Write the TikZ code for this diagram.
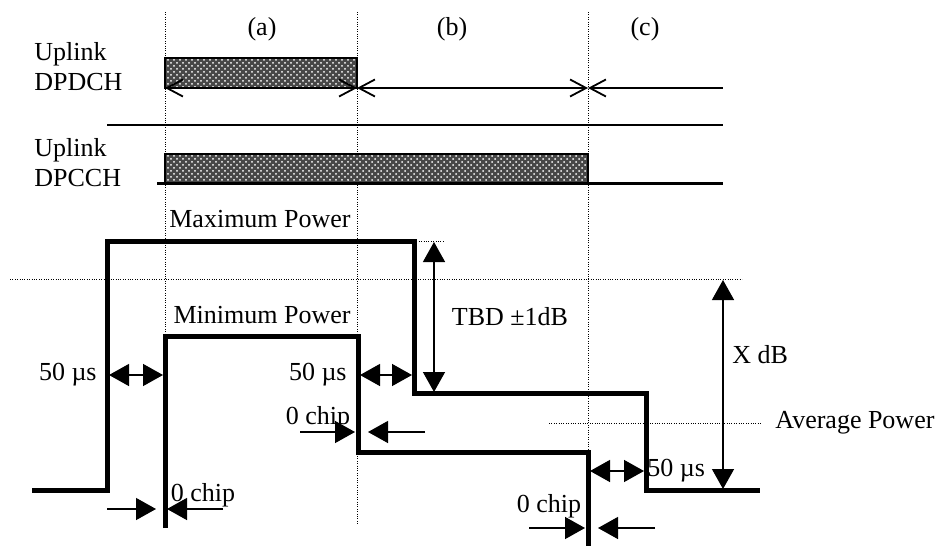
\documentclass[tikz,border=0pt]{standalone}
\usepackage{fontspec}
\setmainfont{Liberation Serif}
\usetikzlibrary{arrows.meta,patterns}
\begin{document}
\begin{tikzpicture}[x=0.5pt,y=-0.5pt,
  every node/.style={font=\fontsize{13}{15}\selectfont, inner sep=0pt},
  guide/.style={line width=0.5pt, dash pattern=on 0.5pt off 0.7pt},
  trace/.style={line width=2.5pt, line join=miter},
  sepline/.style={line width=0.9pt},
  baseline/.style={line width=1.5pt},
  boxline/.style={line width=0.7pt},
  barbline/.style={line width=0.9pt},
  dim/.style={line width=0.7pt, {Triangle[length=10pt,width=11pt]}-{Triangle[length=10pt,width=11pt]}},
  ptr/.style={line width=0.7pt, -{Triangle[length=10pt,width=11pt]}},
  hatchfill/.style={fill=black!72},
  hatchdots/.style={pattern=crosshatch dots, pattern color=white},
]
\useasboundingbox (0,0) rectangle (942,546);

% ---------- key coordinates ----------
\coordinate (ga1) at (165,12);  \coordinate (ga2) at (165,337);
\coordinate (gb1) at (357,12);  \coordinate (gb2) at (357,525);
\coordinate (gc1) at (588,12);  \coordinate (gc2) at (588,450);

% ---------- guides ----------
\draw[guide] (ga1) -- (ga2);
\draw[guide] (gb1) -- (gb2);
\draw[guide] (gc1) -- (gc2);
\coordinate (hl1) at (10,279);  \coordinate (hl2) at (742,279);
\draw[guide] (hl1) -- (hl2);
\coordinate (tb1) at (414,241); \coordinate (tb2) at (443,241);
\draw[guide] (tb1) -- (tb2);
\coordinate (av1) at (549,423); \coordinate (av2) at (762,423);
\draw[guide] (av1) -- (av2);

% ---------- labels top ----------
\node (la) at (262,29) {(a)};
\node (lb) at (452,29) {(b)};
\node (lc) at (645,29) {(c)};
\node[anchor=west, align=left] (ldpdch) at (34,67) {Uplink\\DPDCH};
\node[anchor=west, align=left] (ldpcch) at (34,163) {Uplink\\DPCCH};

% ---------- DPDCH ----------
\fill[hatchfill] (165,58) rectangle (357,88);
\fill[hatchdots] (165,58) rectangle (357,88);
\draw[boxline] (165,58) rectangle (357,88);
\coordinate (d0) at (165,88); \coordinate (d1) at (357,88);
\coordinate (d2) at (588,88); \coordinate (d3) at (723,88);
\draw[barbline, {Straight Barb[length=8pt,width=8.5pt]}-{Straight Barb[length=8pt,width=8.5pt]}] (d0) -- (d1);
\draw[barbline, {Straight Barb[length=8pt,width=8.5pt]}-{Straight Barb[length=8pt,width=8.5pt]}] (d1) -- (d2);
\draw[barbline, {Straight Barb[length=8pt,width=8.5pt]}-] (d2) -- (d3);

% separator
\coordinate (s0) at (107,125); \coordinate (s1) at (723,125);
\draw[sepline] (s0) -- (s1);

% ---------- DPCCH ----------
\fill[hatchfill] (165,154) rectangle (588,183);
\fill[hatchdots] (165,154) rectangle (588,183);
\draw[boxline] (165,154) rectangle (588,183);
\coordinate (c0) at (157,183); \coordinate (c1) at (723,183);
\draw[baseline] (c0) -- (c1);

% ---------- power traces ----------
\coordinate (m0) at (32,490);  \coordinate (m1) at (107,490);
\coordinate (m2) at (107,241); \coordinate (m3) at (414,241);
\coordinate (m4) at (414,393); \coordinate (m5) at (646,393);
\coordinate (m6) at (646,490); \coordinate (m7) at (760,490);
\draw[trace] (m0) -- (m1) -- (m2) -- (m3) -- (m4) -- (m5) -- (m6) -- (m7);

\coordinate (n0) at (165,528); \coordinate (n1) at (165,336);
\coordinate (n2) at (358,336); \coordinate (n3) at (358,452);
\coordinate (n4) at (588,452); \coordinate (n5) at (588,546);
\draw[trace] (n0) -- (n1) -- (n2) -- (n3) -- (n4) -- (n5);

\node (maxp) at (260,219) {Maximum Power};
\node (minp) at (262,315) {Minimum Power};
\node[anchor=west] (avgp) at (775,423) {Average Power};

% ---------- 50 us ----------
\coordinate (u1a) at (109,375); \coordinate (u1b) at (163,375);
\draw[dim] (u1a) -- (u1b);
\node[anchor=east] (t50a) at (97,375) {50 µs};
\coordinate (u2a) at (360,375); \coordinate (u2b) at (412,375);
\draw[dim] (u2a) -- (u2b);
\node[anchor=east] (t50b) at (347,375) {50 µs};
\coordinate (u3a) at (590,471); \coordinate (u3b) at (644,471);
\draw[dim] (u3a) -- (u3b);
\node[anchor=west] (t50c) at (647,471) {50 µs};

% ---------- TBD and X dB ----------
\coordinate (tbdA) at (434,242); \coordinate (tbdB) at (434,392);
\draw[dim] (tbdA) -- (tbdB);
\node (tbd) at (510,317) {TBD ±1dB};
\coordinate (xA) at (723,280); \coordinate (xB) at (723,489);
\draw[dim] (xA) -- (xB);
\node[anchor=west] (xdb) at (732,355) {X dB};

% ---------- 0 chip ----------
\node (c0a) at (203,495) {0 chip};
\coordinate (p1a) at (107,509); \coordinate (p1b) at (156,509);
\draw[ptr] (p1a) -- (p1b);
\coordinate (p2a) at (223,509); \coordinate (p2b) at (167,509);
\draw[ptr] (p2a) -- (p2b);

\node (c0b) at (318,418) {0 chip};
\coordinate (p3a) at (300,432); \coordinate (p3b) at (355,432);
\draw[ptr] (p3a) -- (p3b);
\coordinate (p4a) at (425,432); \coordinate (p4b) at (368,432);
\draw[ptr] (p4a) -- (p4b);

\node (c0c) at (549,506) {0 chip};
\coordinate (p5a) at (529,528); \coordinate (p5b) at (585,528);
\draw[ptr] (p5a) -- (p5b);
\coordinate (p6a) at (655,528); \coordinate (p6b) at (598,528);
\draw[ptr] (p6a) -- (p6b);
\end{tikzpicture}
\end{document}
